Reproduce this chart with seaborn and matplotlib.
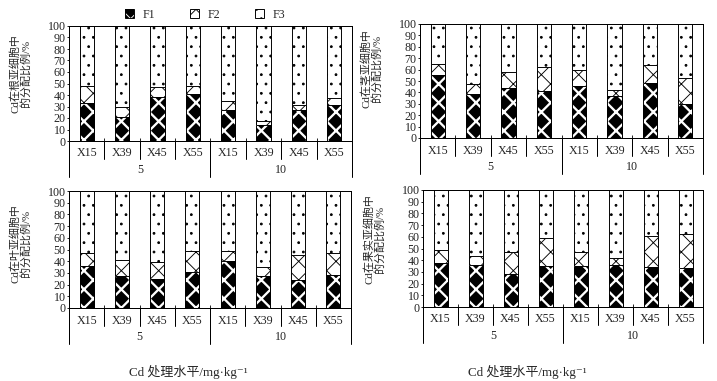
import numpy as np
import matplotlib.pyplot as plt
import pandas as pd
import seaborn as sns
from matplotlib.patches import Patch
from matplotlib.legend_handler import HandlerTuple

#=========================== data ===========================
cultivars = ['X15', 'X39', 'X45', 'X55']
cd_levels = ['5', '10']
ylabels = ['Cd在根亚细胞中\n的分配比例/%', 'Cd在茎亚细胞中\n的分配比例/%',
           'Cd在叶亚细胞中\n的分配比例/%', 'Cd在果实亚细胞中\n的分配比例/%']

# F1, F2 share (%) ; F3 is the rest up to 100
root_f1 = [33, 21, 38, 41, 27, 14, 27, 31]
root_f2 = [15, 9, 9, 7, 8, 3, 4, 6]
stem_f1 = [55, 39, 44, 41, 46, 37, 48, 30]
stem_f2 = [10, 8, 14, 21, 14, 5, 16, 23]
leaf_f1 = [36, 27, 25, 31, 40, 27, 24, 28]
leaf_f2 = [11, 14, 14, 18, 9, 8, 21, 19]
fruit_f1 = [38, 36, 28, 35, 35, 36, 34, 33]
fruit_f2 = [11, 8, 19, 24, 12, 6, 27, 29]

#=========================== style ===========================
DPI = 56   # hatch tile is one inch, so a low dpi gives a finer pattern
W, H = 717, 381


def px(v):
    # pixels -> points
    return v * 72 / DPI


sns.set_theme(style='ticks')
plt.rcParams['font.family'] = ['Liberation Serif', 'Noto Sans CJK SC', 'DejaVu Sans']
plt.rcParams['axes.linewidth'] = px(1)
plt.rcParams['hatch.linewidth'] = px(0.9)

fig = plt.figure(figsize=(W / DPI, H / DPI), dpi=DPI)

# axes boxes in pixels: left, top, right, bottom
boxes = [(69, 26, 352, 141), (420, 24, 703, 138),
         (69, 191, 351, 308), (423, 190, 703, 307)]
ylab_y = [0.59, 0.61, 0.55, 0.58]
FS = px(12)
EDGE = px(0.95)


def draw_panel(ax, f1, f2, ylabel, ly):
    keys = [f'{lv}-{c}' for lv in cd_levels for c in cultivars]
    df = pd.DataFrame({'key': keys, 'f1': f1, 'f12': np.add(f1, f2)})
    df['total'] = 100

    # F3 (whole bar), then F1+F2, then F1 on top
    sns.barplot(data=df, x='key', y='total', order=keys, color='white', saturation=1,
                width=0.4, edgecolor='black', linewidth=EDGE, ax=ax)
    for p in ax.containers[-1]:
        p.set_hatch('.')
    sns.barplot(data=df, x='key', y='f12', order=keys, color='white', saturation=1,
                width=0.4, edgecolor='black', linewidth=EDGE, ax=ax)
    for p in ax.containers[-1]:
        p.set_hatch('x')
    sns.barplot(data=df, x='key', y='f1', order=keys, color='black', saturation=1,
                width=0.4, edgecolor='white', linewidth=0, ax=ax)
    for p in ax.containers[-1]:
        p.set_hatch('x')
        p.set_hatch_linewidth(px(2.3))
    sns.barplot(data=df, x='key', y='f1', order=keys, color='black', fill=False,
                width=0.4, linewidth=EDGE, ax=ax)

    ax.set_xlim(-0.5, 7.5)
    ax.set_ylim(0, 100)
    ax.set_yticks(range(0, 101, 10))
    ax.set_xticks(range(8))
    ax.set_xticklabels(cultivars * 2)
    ax.set_xticks(np.arange(0.5, 7, 1), minor=True)
    ax.tick_params(axis='x', which='major', length=0, pad=px(6.5), labelsize=FS)
    ax.tick_params(axis='x', which='minor', direction='in', length=px(3), width=px(1))
    ax.tick_params(axis='y', length=px(2), width=px(1), pad=px(1.5), labelsize=FS)
    ax.set_xlabel('')
    ax.set_ylabel(ylabel, fontsize=px(11), linespacing=0.95)
    ax.yaxis.set_label_coords(-0.135, ly)
    for s in ax.spines.values():
        s.set_visible(True)
        s.set_color('black')

    # two-level category axis below the plot
    hpx = ax.get_position().height * H
    tr = ax.get_xaxis_transform()
    for b in np.arange(-0.5, 8, 1):
        depth = 36 if b in (-0.5, 3.5, 7.5) else 18
        ax.plot([b, b], [0, -depth / hpx], transform=tr, clip_on=False,
                color='black', lw=px(1))
    for i, lv in enumerate(cd_levels):
        ax.text(1.5 + 4 * i, -29 / hpx, lv, transform=tr, ha='center', va='center',
                fontsize=FS)


series = [(root_f1, root_f2), (stem_f1, stem_f2), (leaf_f1, leaf_f2), (fruit_f1, fruit_f2)]
for (l, t, r, b), (f1, f2), yl, ly in zip(boxes, series, ylabels, ylab_y):
    ax = fig.add_axes([l / W, 1 - b / H, (r - l) / W, (b - t) / H])
    draw_panel(ax, f1, f2, yl, ly)

# shared x titles
for cx in (188, 527):
    fig.text(cx / W, 1 - 372 / H, 'Cd 处理水平/mg·kg⁻¹', ha='center', va='center',
             fontsize=px(13))

# legend
h1 = (Patch(facecolor='black', edgecolor='white', hatch='x', linewidth=0),
      Patch(fill=False, edgecolor='black', linewidth=EDGE))
h2 = Patch(facecolor='white', edgecolor='black', hatch='x', linewidth=EDGE)
h3 = Patch(facecolor='white', edgecolor='black', hatch='.', linewidth=EDGE)
fig.legend([h1, h2, h3], ['F1', 'F2', 'F3'], handler_map={tuple: HandlerTuple(ndivide=1)},
           loc='center', bbox_to_anchor=(205 / W, 1 - 15 / H), ncol=3, frameon=False,
           fontsize=FS, handlelength=0.75, handleheight=0.75, handletextpad=0.7,
           columnspacing=2.9)

fig.savefig('out.png', dpi=DPI)
